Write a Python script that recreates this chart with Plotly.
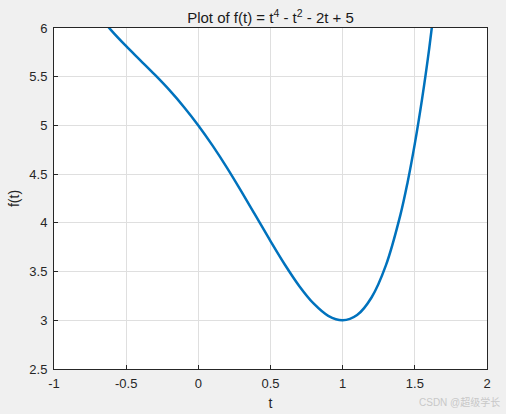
# MATLAB-style line plot of f(t) = t^4 - t^2 - 2t + 5

import plotly.graph_objects as go

# values
t_vals = [-0.7, -0.6, -0.5, -0.4, -0.3, -0.2, -0.1, 0.0, 0.1, 0.2, 0.3, 0.4,
          0.5, 0.6, 0.7, 0.8, 0.9, 1.0, 1.1, 1.2, 1.3, 1.4, 1.45, 1.5, 1.55,
          1.6, 1.65, 1.7]
f_vals = [6.150, 5.970, 5.813, 5.666, 5.518, 5.362, 5.190, 5.000, 4.790, 4.562,
          4.318, 4.066, 3.813, 3.570, 3.350, 3.170, 3.046, 3.000, 3.054, 3.234,
          3.566, 4.082, 4.418, 4.813, 5.270, 5.794, 6.390, 7.062]

x_ticks = [-1, -0.5, 0, 0.5, 1, 1.5, 2]
y_ticks = [2.5, 3, 3.5, 4, 4.5, 5, 5.5, 6]

fig = go.Figure()
fig.add_trace(go.Scatter(x=t_vals, y=f_vals, mode="lines",
                         line=dict(color="#0072BD", width=2.5, shape="spline"),
                         showlegend=False))

axis_style = dict(
    showline=True, linecolor="#262626", linewidth=1, mirror=True,
    showgrid=True, gridcolor="#dfdfdf", gridwidth=1,
    ticks="inside", ticklen=4, tickcolor="#262626",
    zeroline=False, automargin=False,
    tickfont=dict(size=13, color="#262626"),
)

fig.update_xaxes(range=[-1, 2], tickvals=x_ticks,
                 ticktext=[f"{v:g}" for v in x_ticks],
                 ticklabelstandoff=2,
                 title=dict(text="t", font=dict(size=14, color="#262626"), standoff=8),
                 **axis_style)
fig.update_yaxes(range=[2.5, 6], tickvals=y_ticks,
                 ticktext=[f"{v:g}" for v in y_ticks],
                 ticklabelstandoff=3,
                 title=dict(text="f(t)", font=dict(size=14, color="#262626"), standoff=6),
                 **axis_style)

fig.update_layout(
    width=506, height=414,
    margin=dict(l=54, r=19, t=28, b=45),
    paper_bgcolor="#f0f0f0", plot_bgcolor="white",
    font=dict(family="Liberation Sans, Arial, sans-serif", color="#262626"),
    title=dict(text="Plot of f(t) = t<sup>4</sup> - t<sup>2</sup> - 2t + 5",
               x=0.5, xref="paper", xanchor="center",
               y=1, yref="paper", yanchor="bottom", pad=dict(b=5),
               font=dict(size=15, color="#1a1a1a")),
)

# watermark in the bottom-right corner
fig.add_annotation(text="CSDN @超级学长", xref="paper", yref="paper",
                   x=1.035, y=-0.097, xanchor="right", yanchor="middle",
                   showarrow=False,
                   font=dict(size=10, color="#c8c8c8",
                             family="Liberation Sans, Noto Sans CJK SC, sans-serif"))

# drop the default page margin so the figure sits at the window's corner
fig.write_html("out.html",
               config={"displayModeBar": False},
               post_script="document.body.style.margin='0';"
                           "document.body.style.background='#f0f0f0';")
